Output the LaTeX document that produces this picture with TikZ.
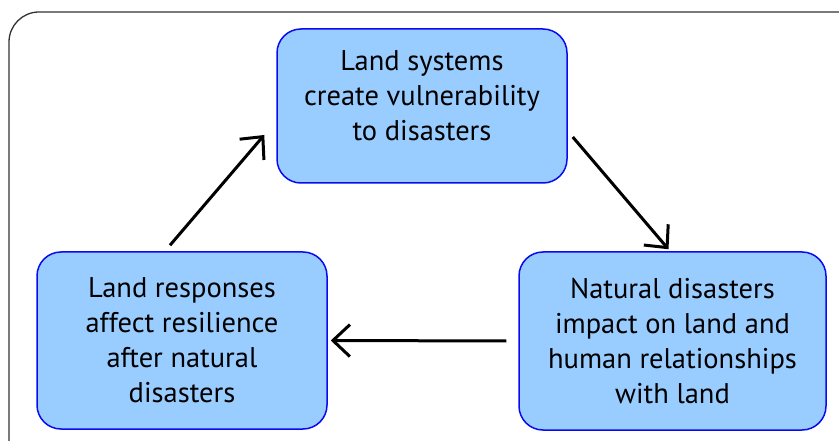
\documentclass[tikz,border=0pt]{standalone}
\usepackage{fontspec}
\setmainfont{PT Sans}
\usetikzlibrary{arrows.meta}
\definecolor{boxfill}{RGB}{153,204,255}
\definecolor{boxline}{RGB}{10,10,240}
\tikzset{
  stagebox/.style={draw=boxline, fill=boxfill, line width=1.5pt, rounded corners=24pt,
    align=center, font=\fontsize{28.5}{35}\selectfont, inner sep=0pt},
  flow/.style={line width=3pt, -{Straight Barb[length=17pt,width=32pt,line width=3pt]}}
}
\begin{document}
\begin{tikzpicture}[x=1pt,y=-1pt]
		\useasboundingbox (0,0) rectangle (839,441);
		\draw[black!80, line width=1.3pt, rounded corners=30pt] (9,445) |- (845,12);
		\node[stagebox, minimum width=290pt, minimum height=154pt, text depth=21pt] (sys) at (422,106) {Land systems\\create vulnerability\\to disasters};
		\node[stagebox, minimum width=307pt, minimum height=178pt] (impact) at (672.5,341) {Natural disasters\\impact on land and\\human relationships\\with land};
		\node[stagebox, minimum width=290pt, minimum height=177pt] (resp) at (182,340.5) {Land responses\\affect resilience\\after natural\\disasters};
		\draw[flow] ([xshift=5pt,yshift=-31pt]sys.east) -- ([xshift=-4pt,yshift=2pt]impact.north);
		\draw[flow] ([xshift=-12pt]impact.west) -- ([xshift=3pt]resp.east);
		\draw[flow] ([xshift=-12pt,yshift=6pt]resp.north) -- ([xshift=-12pt,yshift=-29pt]sys.west);
\end{tikzpicture}
\end{document}
